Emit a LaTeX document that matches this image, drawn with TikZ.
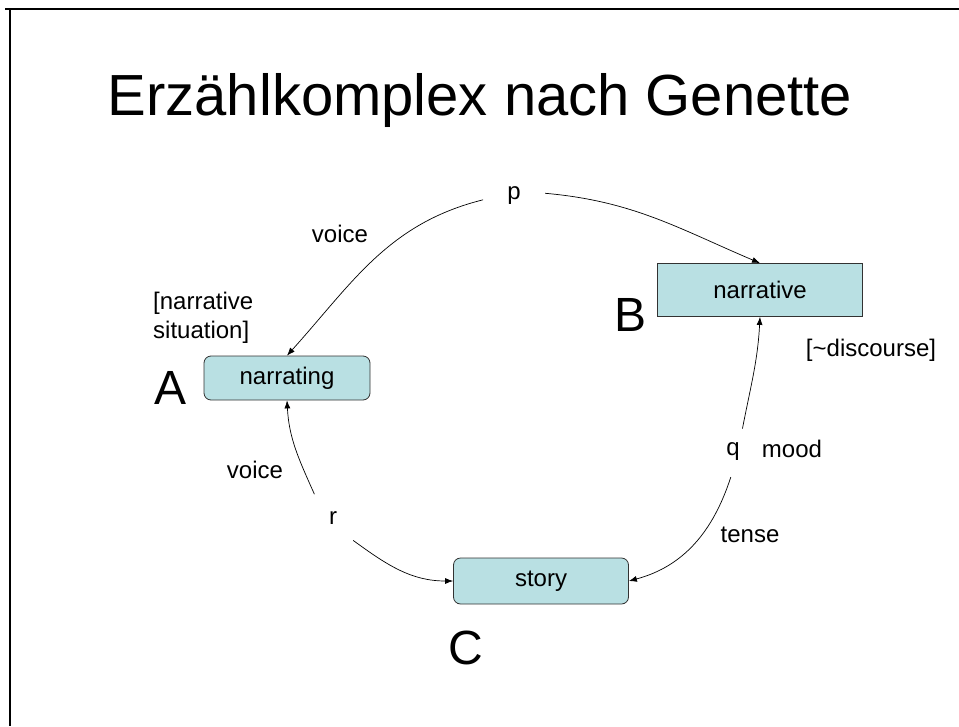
\documentclass[tikz,border=0pt]{standalone}
\usepackage{fontspec}
\setmainfont{Liberation Sans}
\usetikzlibrary{arrows.meta}
\definecolor{boxfill}{RGB}{185,224,227}
\definecolor{boxline}{RGB}{50,50,50}
\begin{document}
\begin{tikzpicture}[x=1pt,y=-1pt,
    box/.style={draw=boxline,fill=boxfill,line width=0.8pt,inner sep=0pt,
      font=\fontsize{24}{28}\selectfont},
    lbl/.style={inner sep=0pt,font=\fontsize{24}{29}\selectfont},
    big/.style={inner sep=0pt,font=\fontsize{48}{48}\selectfont},
    pole/.style={circle,inner sep=0pt,font=\fontsize{24}{29}\selectfont},
    link/.style={-{Latex[length=8pt,width=6pt]},line width=0.7pt}]
  \useasboundingbox (0,0) rectangle (959,726);
  \draw[line width=2.5pt] (5,9) -- (959,9) (10,9) -- (10,726);
  \node (title) at (480,101) {\fontsize{58}{60}\selectfont Erzählkomplex nach Genette};
  % boxes
  \node[box,rounded corners=7pt,minimum width=166pt,minimum height=44pt] (narrating) at (287,378) {narrating};
  \node[box,minimum width=205pt,minimum height=53pt] (narrative) at (760,290) {narrative};
  \node[box,rounded corners=7pt,minimum width=175pt,minimum height=46pt] (story) at (541,581) {story};
  \node[big] (a) at (171,388) {A};
  \node[big] (b) at (631,315) {B};
  \node[big] (c) at (466,648) {C};
  % labels
  \node[pole,minimum size=62pt] (p) at (514,196) {p};
  \node[pole,minimum size=50pt] (q) at (733,452) {q};
  \node[pole,minimum size=60pt] (r) at (333,518) {r};
  \node[lbl] (voice1) at (340,234) {voice};
  \node[lbl] (voice2) at (255,470) {voice};
  \node[lbl] (mood) at (792,449) {mood};
  \node[lbl] (tense) at (750,535) {tense};
  \node[lbl,align=left,anchor=west] (situation) at (153,318) {[narrative\\situation]};
  \node[lbl] (discourse) at (871,350) {[\textasciitilde discourse]};
  % links
  \begin{scope}[link]
    \draw (p.187) to[out=194,in=48] (narrating.north);
    \draw (p.5) to[out=-5,in=157] (narrative.north);
    \draw (q.68) to[out=79,in=-93] (narrative.south);
    \draw (q.-95) to[out=252,in=15] (story.east);
    \draw (r.128) to[out=114,in=-87] (narrating.south);
    \draw (r.-48) to[out=-36,in=180] (story.west);
  \end{scope}
\end{tikzpicture}
\end{document}
